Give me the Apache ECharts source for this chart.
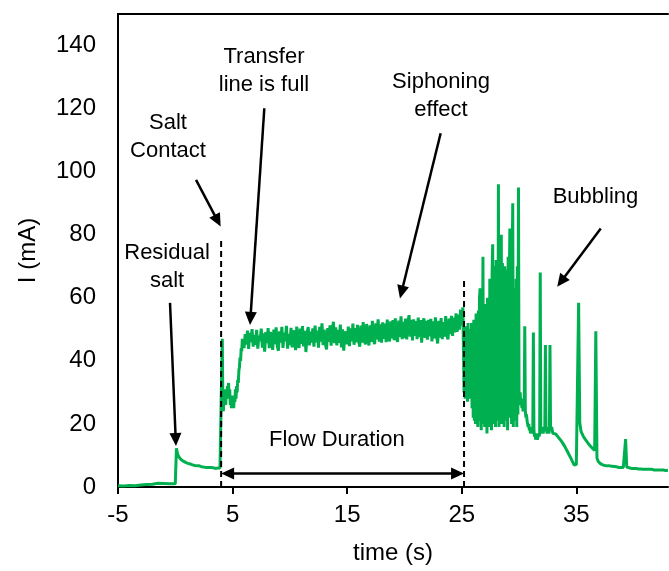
<!DOCTYPE html>
<html><head><meta charset="utf-8">
<script src="https://cdn.jsdelivr.net/npm/echarts@6/dist/echarts.min.js"></script>
<style>html,body{margin:0;padding:0;background:#fff}#c{width:669px;height:571px}</style>
</head><body><div id="c"></div>
<script>
// ---- axis ticks ----
const X_TICKS = [-5, 5, 15, 25, 35];
const Y_TICKS = [0, 20, 40, 60, 80, 100, 120, 140];

// ---- sampled current I (mA) vs time (s) ----
// each segment: first sample time, sampling step, values
const baselineStart = -5, baselineStep = 0.5;
const baseline = [0.4, 0.3, 0.5, 0.4, 0.6, 0.8, 0.9, 1.2, 1.1, 1.0];

const residualStart = 0, residualStep = 0.1;
const residual = [1.0, 12.3, 10.4, 9.6, 9.0, 8.7, 8.4, 8.2, 7.9, 7.8,
  7.6, 7.5, 7.3, 7.3, 7.1, 7.0, 7.0, 6.8, 6.9, 6.7,
  6.6, 6.7, 6.5, 6.4, 6.5, 6.3, 6.4, 6.2, 6.3, 6.2,
  6.1, 6.2, 6.0, 6.1, 6.0, 5.9, 6.1, 6.0, 5.9, 6.0, 6.1];

const fillingStart = 4.1, fillingStep = 0.05;
const filling = [47, 27, 24, 30, 27, 31, 26, 30, 28, 32,
  29, 33, 28, 31, 26, 29, 25, 28, 26, 29,
  25, 29, 27, 31, 28, 32, 30, 34, 33, 37,
  38, 41, 40, 44, 43, 47, 45, 47];

const plateauStart = 6.0, plateauStep = 0.1;
const plateau = [
  44.0, 48.5, 45.2, 49.6, 43.8, 48.9, 46.0, 50.1, 44.5, 48.2,
  45.1, 49.8, 43.9, 48.0, 46.3, 50.2, 44.2, 48.7, 42.9, 49.1,
  45.6, 50.4, 44.0, 49.2, 46.8, 43.5, 49.9, 45.3, 50.6, 44.7,
  43.2, 49.4, 45.8, 50.8, 44.1, 49.0, 46.2, 51.1, 43.9, 48.6,
  45.0, 50.5, 44.3, 49.7, 46.9, 43.4, 50.9, 45.7, 44.1, 50.2,
  45.4, 51.0, 44.6, 49.5, 42.8, 48.8, 50.7, 44.9, 49.3, 45.8,
  50.3, 44.5, 51.2, 45.9, 49.6, 44.2, 50.8, 46.1, 51.9, 45.0,
  49.9, 45.3, 43.6, 50.4, 46.0, 51.3, 44.8, 49.7, 52.4, 45.6,
  50.6, 44.9, 49.8, 45.7, 51.5, 44.3, 50.0, 43.2, 49.4, 46.6,
  45.3, 50.9, 44.7, 50.3, 46.2, 51.8, 45.1, 50.4, 45.9, 51.4,
  46.4, 44.5, 51.2, 45.8, 52.3, 46.6, 45.2, 51.7, 47.0, 44.9,
  51.3, 46.0, 52.7, 46.5, 45.3, 51.9, 46.8, 53.2, 46.1, 51.6,
  45.8, 52.2, 47.0, 51.8, 45.9, 53.1, 47.3, 46.2, 52.5, 47.1,
  52.9, 46.6, 53.5, 47.4, 46.0, 52.8, 47.6, 54.1, 46.9, 52.4,
  47.2, 53.4, 46.8, 52.3, 54.5, 47.7, 53.0, 46.5, 53.2, 47.9,
  52.6, 46.9, 53.7, 47.5, 52.9, 45.8, 52.2, 53.5, 47.3, 52.7,
  46.7, 53.0, 47.8, 53.3, 46.2, 52.5, 47.1, 53.8, 48.0, 45.5,
  52.7, 47.4, 53.6, 46.9, 52.3, 47.7, 54.2, 48.1, 46.8, 53.4,
  48.5, 54.3, 47.9, 53.7, 49.0, 55.1, 49.2, 54.7, 49.9, 56.3,
  51.2, 57.0];

const bubblingStart = 25.2, bubblingStep = 0.05;
const bubbling = [
  30, 49, 28, 51, 33, 47, 27, 52, 31, 50,
  28, 46, 30, 52, 25, 48, 22, 53, 21, 50,
  20, 55, 23, 49, 19, 56, 21, 60, 63, 24,
  18, 57, 22, 73, 20, 52, 19, 58, 24, 55,
  17, 60, 21, 56, 19, 66, 23, 62, 18, 68,
  77, 20, 70, 22, 65, 19, 72, 25, 68, 21,
  96, 19, 70, 24, 66, 80, 20, 71, 23, 67,
  19, 70, 26, 64, 21, 69, 18, 73, 24, 66,
  82, 22, 68, 20, 71, 90, 19, 63, 25, 60,
  21, 66, 19, 70, 23, 95, 29, 27, 30, 26,
  28, 25, 27, 24, 26, 25, 51, 24, 22, 23,
  21, 20, 19, 20, 18, 19, 17, 18, 17, 18,
  17, 49, 18, 16, 17, 15, 16, 17, 15, 16,
  17, 16, 17, 68, 18, 17, 19, 18, 17, 18,
  19, 18, 45, 19, 18, 17, 19, 18, 17, 18,
  45, 19, 18, 19, 18, 17];

const tailStart = 33.0, tailStep = 0.1;
const tail = [
  17.5, 17.0, 16.8, 16.2, 15.9, 15.3, 15.0, 14.4, 14.0, 13.4,
  12.8, 12.1, 11.4, 10.8, 10.0, 9.3, 8.5, 7.8, 7.0, 6.7,
  7.1, 6.6, 58.4, 20.5, 17.8, 16.9, 16.1, 15.6, 15.0, 14.5,
  14.0, 13.6, 13.1, 12.7, 12.3, 12.0, 11.6, 49.4, 9.2, 8.2,
  7.7, 7.4, 7.2, 7.0, 6.9, 6.8, 6.9, 6.7, 6.6, 6.7,
  6.5, 6.6, 6.4, 6.5, 6.3, 6.4, 6.3, 6.2, 6.3, 6.2,
  6.1, 6.2, 6.1, 15.2, 6.3, 6.0, 6.1, 6.0, 5.9, 6.0,
  5.9, 5.8, 5.9, 5.8, 5.7, 5.8, 5.7, 5.8, 5.6, 5.7,
  5.6, 5.7, 5.6, 5.5, 5.6, 5.5, 5.6, 5.5, 5.4, 5.5,
  5.4, 5.5, 5.4, 5.3, 5.4, 5.3, 5.4, 5.3, 5.2, 5.3, 5.3];

// ---- annotations (data coordinates) ----
const annotTexts = ['Residual\nsalt', 'Salt\nContact', 'Transfer\nline is full', 'Siphoning\neffect', 'Bubbling', 'Flow Duration'];
const annotTextPos = [[-0.72, 69.8], [-0.64, 111], [7.74, 131.9], [23.19, 124], [36.67, 92], [14.11, 14.9]];
const arrowFrom = [[-0.46, 58.4], [1.81, 97.4], [7.77, 120.1], [23.16, 112.2], [37.13, 82.0]];
const arrowTo = [[0.06, 13.0], [3.96, 82.6], [6.52, 51.4], [19.61, 59.8], [33.33, 63.5]];
const dashedX = [4.0, 25.2];
const dashedTop = [79, 66];
const flowArrowY = 4.3;

// ---- build series data ----
function seg(start, step, vals) {
  return vals.map((v, i) => [Math.round((start + i * step) * 1000) / 1000, v]);
}
const data = [].concat(
  seg(baselineStart, baselineStep, baseline),
  seg(residualStart, residualStep, residual),
  seg(fillingStart, fillingStep, filling),
  seg(plateauStart, plateauStep, plateau),
  seg(bubblingStart, bubblingStep, bubbling),
  seg(tailStart, tailStep, tail)
);

const FONT = '"Liberation Sans", Arial, sans-serif';
const chart = echarts.init(document.getElementById('c'), null, {renderer: 'canvas'});
chart.setOption({
  animation: false,
  backgroundColor: '#fff',
  grid: {left: 118, right: 1, top: 14, bottom: 84, containLabel: false},
  xAxis: [{
    type: 'value', min: -5, max: 43, interval: 10,
    axisLine: {show: true, onZero: false, lineStyle: {color: '#000', width: 2}},
    axisTick: {show: true, inside: false, length: 7, customValues: X_TICKS, lineStyle: {color: '#000', width: 2}},
    axisLabel: {fontSize: 24, color: '#000', fontFamily: FONT, margin: 16, customValues: X_TICKS},
    splitLine: {show: false},
    name: 'time (s)', nameLocation: 'middle', nameGap: 54,
    nameTextStyle: {fontSize: 24, color: '#000', fontFamily: FONT}
  }, {
    type: 'value', min: -5, max: 43, position: 'top',
    axisLine: {show: true, onZero: false, lineStyle: {color: '#000', width: 2}},
    axisTick: {show: false}, axisLabel: {show: false}, splitLine: {show: false}
  }],
  yAxis: {
    type: 'value', min: 0, max: 150, interval: 20,
    axisLine: {show: true, onZero: false, lineStyle: {color: '#000', width: 2}},
    axisTick: {show: false},
    axisLabel: {fontSize: 24, color: '#000', fontFamily: FONT, margin: 22, customValues: Y_TICKS},
    splitLine: {show: false},
    name: 'I (mA)', nameLocation: 'middle', nameGap: 78,
    nameTextStyle: {fontSize: 24, color: '#000', fontFamily: FONT}
  },
  series: [{
    type: 'line', data: data, showSymbol: false, symbol: 'none', sampling: null,
    lineStyle: {color: '#00B050', width: 3}, z: 2
  }]
});

// annotations placed from data coordinates
const px = p => chart.convertToPixel({xAxisIndex: 0, yAxisIndex: 0}, p);
const g = [];
const HEAD_L = 13, HEAD_W = 6;
function arrowHead(tip, dir) {
  const [dx, dy] = dir;
  const bx = tip[0] - dx * HEAD_L, by = tip[1] - dy * HEAD_L;
  const nx = -dy, ny = dx;
  return {type: 'polygon', shape: {points: [tip, [bx + nx * HEAD_W, by + ny * HEAD_W], [bx - nx * HEAD_W, by - ny * HEAD_W]]},
    style: {fill: '#000'}, z: 10};
}
function arrow(a, b, both) {
  const dx = b[0] - a[0], dy = b[1] - a[1];
  const L = Math.hypot(dx, dy);
  const u = [dx / L, dy / L];
  const s = both ? [a[0] + u[0] * (HEAD_L - 2), a[1] + u[1] * (HEAD_L - 2)] : a;
  const e = [b[0] - u[0] * (HEAD_L - 2), b[1] - u[1] * (HEAD_L - 2)];
  g.push({type: 'line', shape: {x1: s[0], y1: s[1], x2: e[0], y2: e[1]}, style: {stroke: '#000', lineWidth: 2.5}, z: 10});
  g.push(arrowHead(b, u));
  if (both) g.push(arrowHead(a, [-u[0], -u[1]]));
}
arrowFrom.forEach((f, i) => arrow(px(f), px(arrowTo[i]), false));
arrow(px([dashedX[0], flowArrowY]), px([dashedX[1], flowArrowY]), true);
dashedX.forEach((x, i) => {
  const a = px([x, 0]), b = px([x, dashedTop[i]]);
  g.push({type: 'line', shape: {x1: a[0], y1: a[1], x2: b[0], y2: b[1]},
    style: {stroke: '#000', lineWidth: 2, lineDash: [6, 4]}, z: 9});
});
annotTexts.forEach((t, i) => {
  const p = px(annotTextPos[i]);
  g.push({type: 'text', x: p[0], y: p[1], style: {text: t, fontSize: 22, fontFamily: FONT, fill: '#000',
    align: 'center', verticalAlign: 'middle', lineHeight: 28}, z: 11});
});
chart.setOption({graphic: g});
</script></body></html>
